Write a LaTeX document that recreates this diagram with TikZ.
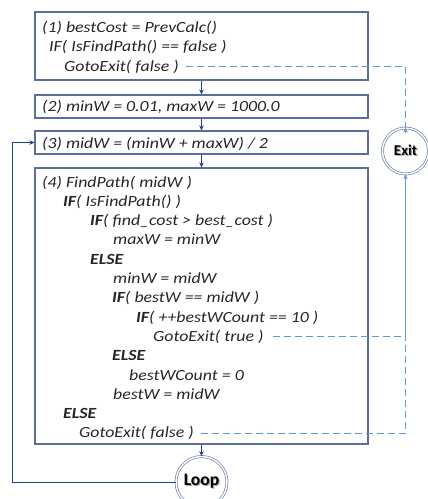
\documentclass[tikz,border=0pt]{standalone}
\usepackage{fontspec}
\setmainfont{Carlito}
\newfontfamily\codefont{Carlito}[FakeStretch=1.15]
\usetikzlibrary{arrows.meta}
\definecolor{boxline}{HTML}{5B6E9E}
\definecolor{ringline}{HTML}{7282AA}
\definecolor{flow}{HTML}{23408E}
\definecolor{jump}{HTML}{5E9AD6}
\definecolor{ink}{HTML}{262626}
\newcommand{\kw}[1]{\textbf{#1}}
\newcommand{\shadowed}[1]{\makebox[0pt][l]{\hspace{1.2pt}\raisebox{-1.2pt}{\color{black!35}#1}}#1}
\begin{document}
\begin{tikzpicture}[x=1pt,y=-1pt,
  stepbox/.style={draw=boxline, line width=1.1pt, inner sep=0pt, minimum width=333pt},
  code/.style={anchor=base west, inner sep=0pt, text=ink,
    font=\codefont\fontsize{15.5}{18}\selectfont\itshape},
  flowarrow/.style={draw=flow, line width=0.9pt, -{Stealth[length=5pt,width=4.5pt]}},
  jumpline/.style={draw=jump, line width=0.9pt, dash pattern=on 7pt off 4pt},
  jumparrow/.style={draw=jump, line width=0.9pt, -{Stealth[length=5pt,width=4.5pt]}},
  terminal/.style={circle, draw=ringline, double=white, double distance=1.4pt,
    line width=0.7pt, inner sep=0pt, text=black}]
\useasboundingbox (0,0) rectangle (428,499);
\clip (0,0) rectangle (428,499);

% step boxes
\node[stepbox, minimum height=68pt]  (b1) at (201.5,46)    {};
\node[stepbox, minimum height=23pt]  (b2) at (201.5,106.5) {};
\node[stepbox, minimum height=23pt]  (b3) at (201.5,142.5) {};
\node[stepbox, minimum height=276pt] (b4) at (201.5,306)   {};

% terminals
\node[terminal, minimum size=46pt, font=\bfseries\fontsize{15}{17}\selectfont]
  (exit) at (405.5,151) {\shadowed{Exit}};
\node[terminal, minimum size=51pt, font=\bfseries\fontsize{17.5}{20}\selectfont]
  (loop) at (201.5,482) {\shadowed{Loop}};

% step 1
\node[code] (s1a) at (42,32)  {(1) bestCost = PrevCalc()};
\node[code] (s1b) at (49,51)  {IF( IsFindPath() == false )};
\node[code] (s1c) at (64,71)  {GotoExit( false )};
% step 2 and 3
\node[code] (s2)  at (42,111) {(2) minW = 0.01, maxW = 1000.0};
\node[code] (s3)  at (42,148) {(3) midW = (minW + maxW) / 2};
% step 4
\node[code] (s4a) at (42,187)   {(4) FindPath( midW )};
\node[code] (s4b) at (63,206.3) {\kw{IF}( IsFindPath() )};
\node[code] (s4c) at (90,225.6) {\kw{IF}( find\_cost > best\_cost )};
\node[code] (s4d) at (113,244.9) {maxW = minW};
\node[code] (s4e) at (90,264.2) {\kw{ELSE}};
\node[code] (s4f) at (113,283.5) {minW = midW};
\node[code] (s4g) at (112,302.8) {\kw{IF}( bestW == midW )};
\node[code] (s4h) at (136,322.1) {\kw{IF}( ++bestWCount == 10 )};
\node[code] (s4i) at (153,341.4) {GotoExit( true )};
\node[code] (s4j) at (112,360.7) {\kw{ELSE}};
\node[code] (s4k) at (129,380)   {bestWCount = 0};
\node[code] (s4l) at (113,399.3) {bestW = midW};
\node[code] (s4m) at (63,418.6)  {\kw{ELSE}};
\node[code] (s4n) at (79,437.9)  {GotoExit( false )};

% main flow
\draw[flowarrow] (b1.south) -- (b2.north);
\draw[flowarrow] (b2.south) -- (b3.north);
\draw[flowarrow] (b3.south) -- (b4.north);
\draw[flowarrow] (b4.south) -- (loop.north);
\coordinate (back) at (12,142.5);
\draw[flowarrow] (loop.west) -- (loop.west -| back) -- (back) -- (b3.west);

% jumps to exit
\coordinate (join) at (exit.center |- s4i.east);
\draw[jumpline] ([xshift=7pt]s1c.east) -- (s1c.east -| exit.center) -- ([yshift=-5pt]exit.north);
\draw[jumparrow] ([yshift=-5.5pt]exit.north) -- (exit.north);
\draw[jumpline] ([xshift=9pt]s4i.east) -- (join);
\draw[jumpline] ([xshift=7pt]s4n.east) -- (s4n.east -| exit.center) -- (join);
\draw[jumparrow] (join) -- (exit.south);
\end{tikzpicture}
\end{document}
